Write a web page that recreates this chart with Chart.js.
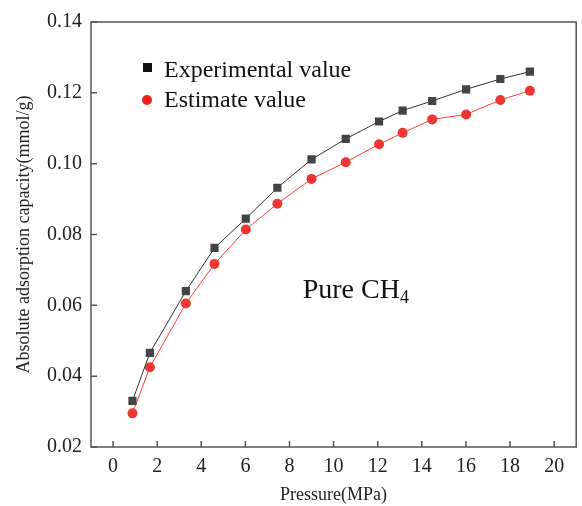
<!DOCTYPE html>
<html>
<head>
  <title>Pure CH4 adsorption</title>
  <script src="https://cdn.jsdelivr.net/npm/chart.js"></script>
  <style>
    body { margin: 0; background: #fff; }
    canvas { display: block; }
  </style>
</head>
<body>
  <canvas id="adsChart" width="582" height="506"></canvas>
  <script>
  // pressure (MPa) and absolute adsorption capacity (mmol/g)
  const pressure = [0.88, 1.67, 3.3, 4.6, 6.02, 7.45, 9.0, 10.55, 12.06, 13.13, 14.47, 16.01, 17.56, 18.9];
  const experimental = [0.0330, 0.0466, 0.0640, 0.0762, 0.0845, 0.0932, 0.1012, 0.1070, 0.1119, 0.1150, 0.1177, 0.1210, 0.1239, 0.1260];
  const estimate = [0.0295, 0.0425, 0.0605, 0.0717, 0.0814, 0.0887, 0.0957, 0.1004, 0.1055, 0.1087, 0.1125, 0.1139, 0.1180, 0.1206];
  const xTicks = [0, 2, 4, 6, 8, 10, 12, 14, 16, 18, 20];
  const yTicks = [0.02, 0.04, 0.06, 0.08, 0.10, 0.12, 0.14];

  const serif = "'Liberation Serif', 'Times New Roman', serif";

  // box around the plot with inward tick marks on the left and bottom
  const frame = {
    id: 'frame',
    beforeDatasetsDraw(chart) {
      const { ctx, chartArea: a, scales: { x, y } } = chart;
      ctx.save();
      ctx.strokeStyle = '#555';
      ctx.lineWidth = 1.5;
      ctx.strokeRect(a.left, a.top, a.right - a.left, a.bottom - a.top);
      ctx.beginPath();
      x.ticks.forEach(t => {
        const px = x.getPixelForValue(t.value);
        ctx.moveTo(px, a.bottom);
        ctx.lineTo(px, a.bottom - 6);
      });
      y.ticks.forEach(t => {
        const py = y.getPixelForValue(t.value);
        ctx.moveTo(a.left, py);
        ctx.lineTo(a.left + 6, py);
      });
      ctx.stroke();
      ctx.restore();
    }
  };

  // legend inside the plot plus the gas label
  const notes = {
    id: 'notes',
    afterDraw(chart) {
      const { ctx, chartArea: a, scales: { x, y } } = chart;
      ctx.save();
      ctx.font = '24px ' + serif;
      ctx.textBaseline = 'alphabetic';
      ctx.fillStyle = '#111';

      ctx.fillRect(a.left + 52, a.top + 41, 9, 9);
      ctx.fillText(chart.data.datasets[0].label, a.left + 73, a.top + 55);

      ctx.fillStyle = '#f21f1f';
      ctx.beginPath();
      ctx.arc(a.left + 56, a.top + 78, 5, 0, Math.PI * 2);
      ctx.fill();
      ctx.fillStyle = '#111';
      ctx.fillText(chart.data.datasets[1].label, a.left + 73, a.top + 85);

      const lx = x.getPixelForValue(8.6);
      const ly = y.getPixelForValue(0.062);
      ctx.font = '28px ' + serif;
      ctx.fillText('Pure CH', lx, ly);
      const w = ctx.measureText('Pure CH').width;
      ctx.font = '18px ' + serif;
      ctx.fillText('4', lx + w, ly + 5);
      ctx.restore();
    }
  };

  const ctx = document.getElementById('adsChart').getContext('2d');

  const adsChart = new Chart(ctx, {
    type: 'line',
    data: {
      datasets: [
        {
          label: 'Experimental value',
          data: pressure.map((p, i) => ({ x: p, y: experimental[i] })),
          borderColor: '#333',
          borderWidth: 1,
          backgroundColor: '#444',
          pointStyle: 'rect',
          pointRadius: 5.8,
          pointBorderWidth: 0
        },
        {
          label: 'Estimate value',
          data: pressure.map((p, i) => ({ x: p, y: estimate[i] })),
          borderColor: '#ff3b3b',
          borderWidth: 1,
          backgroundColor: '#f03535',
          pointStyle: 'circle',
          pointRadius: 5,
          pointBorderWidth: 0
        }
      ]
    },
    options: {
      responsive: false,
      animation: false,
      layout: { padding: { top: 22, right: 4, bottom: 0, left: 0 } },
      plugins: {
        legend: { display: false },
        tooltip: { enabled: false }
      },
      scales: {
        x: {
          type: 'linear',
          min: -1,
          max: 21,
          afterBuildTicks: s => { s.ticks = xTicks.map(v => ({ value: v })); },
          afterFit: s => { s.height = 59; },
          grid: { display: false, drawTicks: false },
          border: { display: false },
          ticks: { padding: 8, color: '#222', font: { family: serif, size: 20 }, maxRotation: 0 },
          title: { display: true, text: 'Pressure(MPa)', color: '#222', font: { family: serif, size: 18 }, padding: 0 }
        },
        y: {
          min: 0.02,
          max: 0.14,
          afterBuildTicks: s => { s.ticks = yTicks.map(v => ({ value: v })); },
          afterFit: s => { s.width = 91; },
          grid: { display: false, drawTicks: false },
          border: { display: false },
          ticks: { padding: 9, color: '#222', font: { family: serif, size: 20 }, callback: v => v.toFixed(2) },
          title: { display: true, text: 'Absolute adsorption capacity(mmol/g)', color: '#222', font: { family: serif, size: 18 }, padding: { top: 13, bottom: 0 } }
        }
      }
    },
    plugins: [frame, notes]
  });
  </script>
</body>
</html>
